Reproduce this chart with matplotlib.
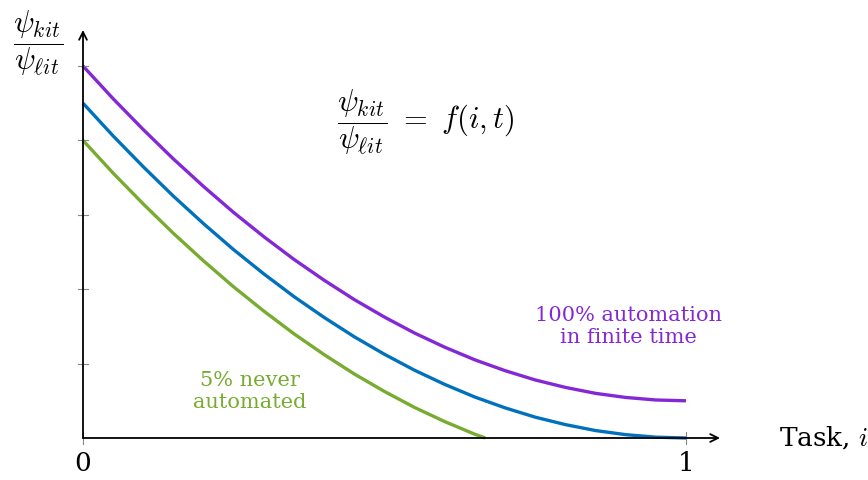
import matplotlib
matplotlib.use("Agg")
import matplotlib.pyplot as plt

plt.rcParams['mathtext.fontset'] = 'cm'

# Task index (x) and relative price ratio curves
task = [0.0, 0.05, 0.1, 0.15, 0.2, 0.25, 0.3, 0.35, 0.4, 0.45, 0.5,
        0.55, 0.6, 0.65, 0.7, 0.75, 0.8, 0.85, 0.9, 0.95, 1.0]
middle = [4.5, 4.06, 3.645, 3.25, 2.88, 2.53, 2.205, 1.90, 1.62, 1.36, 1.125,
          0.91, 0.72, 0.55, 0.405, 0.28, 0.18, 0.10, 0.045, 0.011, 0.0]
finite = [5.0, 4.56, 4.145, 3.75, 3.38, 3.03, 2.705, 2.40, 2.12, 1.86, 1.625,
          1.41, 1.22, 1.05, 0.905, 0.78, 0.68, 0.60, 0.545, 0.511, 0.5]
task_never = [0.0, 0.05, 0.1, 0.15, 0.2, 0.25, 0.3, 0.35, 0.4, 0.45, 0.5,
              0.55, 0.6, 0.65, 0.667]
never = [4.0, 3.56, 3.145, 2.75, 2.38, 2.03, 1.705, 1.40, 1.12, 0.86, 0.625,
         0.41, 0.22, 0.05, 0.0]
y_ticks = [1, 2, 3, 4, 5]
x_ticks = [0, 1]
x_tick_labels = ["0", "1"]

purple = '#8428d6'
blue = '#0072bd'
green = '#77ac30'

W, H = 868, 480
fig = plt.figure(figsize=(W / 100, H / 100), dpi=100)
x0, x1 = 83, 720
y0, y1 = 438, 30
ax = fig.add_axes([x0 / W, (H - y0) / H, (x1 - x0) / W, (y0 - y1) / H])
xmax = (x1 - x0) / 603.0
ymax = (y0 - y1) / 74.4
ax.set_xlim(0, xmax)
ax.set_ylim(0, ymax)
ax.axis('off')

kw = dict(lw=2.4, solid_capstyle='butt', solid_joinstyle='round', clip_on=False)
ax.plot(task, finite, color=purple, **kw)
ax.plot(task, middle, color=blue, **kw)
ax.plot(task_never, never, color=green, **kw)

# axes with arrows
ax.annotate('', xy=(xmax, 0), xytext=(0, 0),
            arrowprops=dict(arrowstyle='->', lw=1.3, color='black', shrinkA=0, shrinkB=0,
                            mutation_scale=14), annotation_clip=False)
ax.annotate('', xy=(0, ymax), xytext=(0, 0),
            arrowprops=dict(arrowstyle='->', lw=1.3, color='black', shrinkA=0, shrinkB=0,
                            mutation_scale=14), annotation_clip=False)

# ticks
for yt in y_ticks:
    ax.plot([-0.009, 0.009], [yt, yt], color='#888888', lw=0.8, clip_on=False)
for xt, lab in zip(x_ticks, x_tick_labels):
    ax.plot([xt, xt], [-0.08, 0.08], color='#888888', lw=0.8, clip_on=False)
    ax.text(xt, -0.17, lab, ha='center', va='top', fontsize=19, family='DejaVu Serif')

ax.text(1.155, 0.0, 'Task, $i$', ha='left', va='center', fontsize=19, family='DejaVu Serif')

fig.text(38 / W, 1 - 43 / H, r'$\dfrac{\psi_{kit}}{\psi_{\ell it}}$', ha='center', va='center',
         fontsize=22)
ax.text(0.569, 4.25, r'$\dfrac{\psi_{kit}}{\psi_{\ell it}}\ =\ f(i,t)$', ha='center', va='center',
        fontsize=22)

ax.text(0.905, 1.5, '100% automation\nin finite time', ha='center', va='center',
        fontsize=15, color=purple, family='DejaVu Serif', linespacing=1.2)
ax.text(0.277, 0.63, '5% never\nautomated', ha='center', va='center',
        fontsize=15, color=green, family='DejaVu Serif', linespacing=1.2)

fig.savefig('out.png', dpi=100)
